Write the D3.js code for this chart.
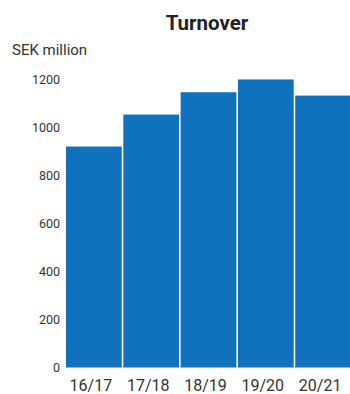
<!DOCTYPE html>
<meta charset="utf-8">
<style>
body { margin: 0; background: #fff; }
text { font-family: Roboto, "Open Sans", sans-serif; }
.axis path.domain, .axis line { display: none; }
.y.axis text { font-size: 12.5px; fill: #333; }
.x.axis text { font-size: 16px; fill: #333; }
</style>
<body>
<div id="chart"></div>
<script src="https://d3js.org/d3.v7.min.js"></script>
<script>
// data
var years = ["16/17", "17/18", "18/19", "19/20", "20/21"];
var turnover = [919, 1052, 1145, 1198, 1131];
var yTicks = [0, 200, 400, 600, 800, 1000, 1200];

var W = 350, H = 394;
var margin = {top: 79, right: 0, bottom: 27, left: 66},
    width = 351 - margin.left,
    height = 367.5 - margin.top;

var svg = d3.select("#chart").append("svg")
    .attr("width", W)
    .attr("height", H)
    .style("display", "block");

var g = svg.append("g")
    .attr("transform", "translate(" + margin.left + "," + margin.top + ")");

var x = d3.scaleBand().domain(years).range([0, width]).paddingInner(0.027);
var y = d3.scaleLinear().domain([0, 1200]).range([height, 0]);

// bars
g.selectAll(".bar")
    .data(years)
  .enter().append("rect")
    .attr("class", "bar")
    .attr("x", function(d) { return x(d); })
    .attr("width", x.bandwidth())
    .attr("y", function(d, i) { return y(turnover[i]); })
    .attr("height", function(d, i) { return height - y(turnover[i]); })
    .attr("fill", "#1072bd");

// y axis
g.append("g").attr("class", "y axis")
    .attr("transform", "translate(-2,0)")
    .call(d3.axisLeft(y).tickValues(yTicks).tickFormat(d3.format("d")).tickSize(0).tickPadding(4))
  .selectAll("text").attr("dy", "0.35em");

// x axis
g.append("g").attr("class", "x axis")
    .attr("transform", "translate(-3," + height + ")")
    .call(d3.axisBottom(x).tickSize(0).tickPadding(12));

// title
svg.append("text")
    .attr("x", 207).attr("y", 30)
    .attr("text-anchor", "middle")
    .style("font-size", "20.5px")
    .style("font-weight", "bold")
    .style("fill", "#222")
    .text("Turnover");

svg.append("text")
    .attr("x", 12).attr("y", 55)
    .style("font-size", "15px")
    .style("fill", "#333")
    .text("SEK million");
</script>
</body>
